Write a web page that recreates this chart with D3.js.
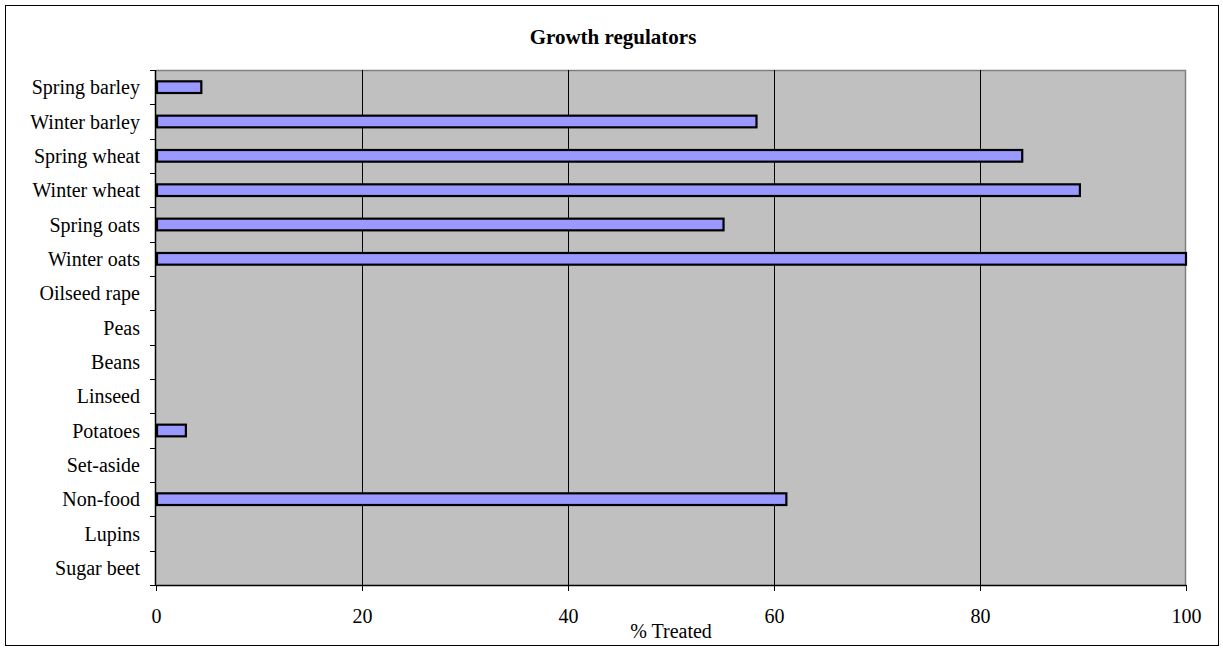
<!DOCTYPE html>
<html>
<head>
<meta charset="utf-8">
<script src="https://cdn.jsdelivr.net/npm/d3@7"></script>
<style>
  html, body { margin: 0; padding: 0; background: #ffffff; }
  svg { display: block; }
  text { font-family: "Liberation Serif", "Times New Roman", serif; fill: #000; }
</style>
</head>
<body>
<svg id="chart" width="1223" height="648"></svg>
<script>
// Crops and the share of their area treated with growth regulators
const crops = ["Spring barley", "Winter barley", "Spring wheat", "Winter wheat", "Spring oats",
  "Winter oats", "Oilseed rape", "Peas", "Beans", "Linseed", "Potatoes", "Set-aside",
  "Non-food", "Lupins", "Sugar beet"];
const treated = [4.4, 58.3, 84.1, 89.7, 55.1, 100, 0, 0, 0, 0, 2.9, 0, 61.2, 0, 0];
const xTicks = [0, 20, 40, 60, 80, 100];
const chartTitle = "Growth regulators";
const xTitle = "% Treated";

const svg = d3.select("#chart");
const plot = { left: 156, right: 1186, top: 70, bottom: 585 };

// outer frame
svg.append("rect")
  .attr("x", 5.5).attr("y", 5.5).attr("width", 1213).attr("height", 640)
  .attr("fill", "#fff").attr("stroke", "#000").attr("stroke-width", 1);

const x = d3.scaleLinear().domain([0, 100]).range([plot.left, plot.right]);
const y = d3.scaleBand().domain(crops).range([plot.top, plot.bottom])
  .paddingInner(0.66).paddingOuter(0.33);

// plot background
svg.append("rect")
  .attr("x", plot.left).attr("y", plot.top)
  .attr("width", plot.right - plot.left).attr("height", plot.bottom - plot.top)
  .attr("fill", "#c0c0c0");

// plot border on top and right
svg.append("path")
  .attr("d", `M${plot.left},${plot.top + 0.5}H${plot.right - 0.5}V${plot.bottom}`)
  .attr("fill", "none").attr("stroke", "#808080").attr("stroke-width", 1.5);

// vertical gridlines
svg.append("g").selectAll("line")
  .data(xTicks.filter(d => d > 0 && d < 100))
  .join("line")
  .attr("x1", d => Math.round(x(d)) + 0.5).attr("x2", d => Math.round(x(d)) + 0.5)
  .attr("y1", plot.top).attr("y2", plot.bottom)
  .attr("stroke", "#000").attr("stroke-width", 1);

// bars
svg.append("g").selectAll("rect")
  .data(crops.map((c, i) => ({ crop: c, value: treated[i] })).filter(d => d.value > 0))
  .join("rect")
  .attr("x", x(0) + 1)
  .attr("y", d => y(d.crop))
  .attr("width", d => x(d.value) - x(0) - 1)
  .attr("height", y.bandwidth())
  .attr("fill", "#9999ff")
  .attr("stroke", "#000")
  .attr("stroke-width", 2.2);

// x axis
const xAxis = svg.append("g")
  .attr("transform", `translate(0,${plot.bottom})`)
  .call(d3.axisBottom(x).tickValues(xTicks).tickSize(6).tickPadding(18).tickSizeOuter(0));
xAxis.select(".domain").attr("stroke", "#000").attr("stroke-width", 1.5);
xAxis.selectAll(".tick line").attr("stroke", "#000");
xAxis.selectAll(".tick text")
  .style("font-family", "'Liberation Serif', 'Times New Roman', serif")
  .style("font-size", "20px").attr("fill", "#000");

// y axis: ticks sit on category boundaries
const step = y.step();
const bounds = d3.range(crops.length + 1).map(i => y.range()[0] + i * step);
const yAxis = svg.append("g");
yAxis.append("line")
  .attr("x1", plot.left - 0.5).attr("x2", plot.left - 0.5)
  .attr("y1", plot.top).attr("y2", plot.bottom)
  .attr("stroke", "#000").attr("stroke-width", 1.5);
yAxis.selectAll("line.tick")
  .data(bounds)
  .join("line").attr("class", "tick")
  .attr("x1", plot.left - 6).attr("x2", plot.left)
  .attr("y1", d => Math.round(d) + 0.5).attr("y2", d => Math.round(d) + 0.5)
  .attr("stroke", "#000").attr("stroke-width", 1);
yAxis.selectAll("text")
  .data(crops)
  .join("text")
  .attr("x", 140)
  .attr("y", d => y(d) + y.bandwidth() / 2)
  .attr("dy", "0.35em")
  .attr("text-anchor", "end")
  .style("font-size", "20px")
  .text(d => d);

// titles
svg.append("text")
  .attr("x", 613).attr("y", 44)
  .attr("text-anchor", "middle")
  .style("font-size", "21px").style("font-weight", "bold")
  .text(chartTitle);

svg.append("text")
  .attr("x", (plot.left + plot.right) / 2).attr("y", 638)
  .attr("text-anchor", "middle")
  .style("font-size", "20px")
  .text(xTitle);
</script>
</body>
</html>
